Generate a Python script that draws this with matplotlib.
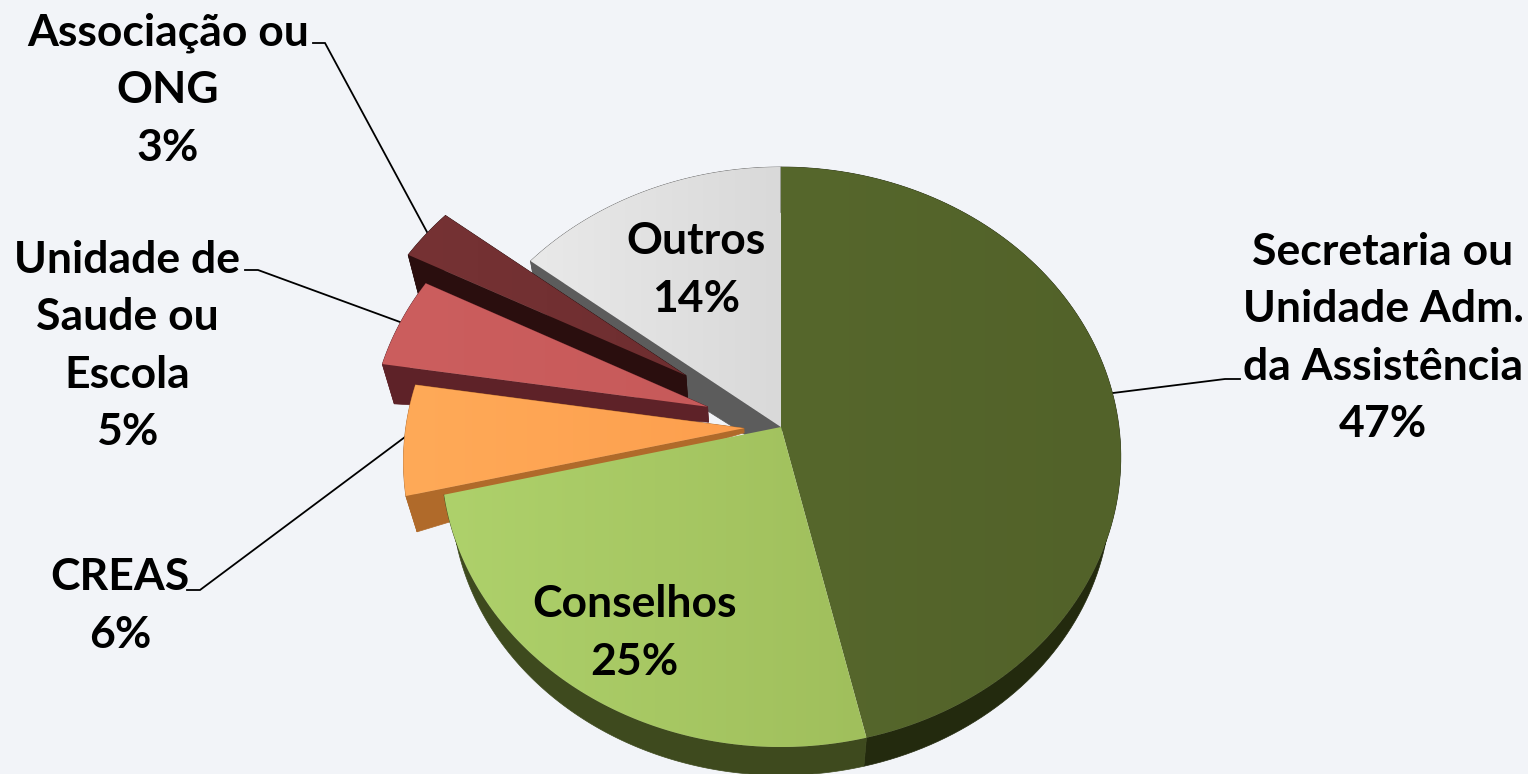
import numpy as np
import matplotlib
matplotlib.use("Agg")
import matplotlib.pyplot as plt
from matplotlib.colors import LinearSegmentedColormap
from matplotlib.patches import Polygon

# chart data, clockwise from 12 o'clock
categories = ["Secretaria ou\nUnidade Adm.\nda Assistência", "Conselhos", "CREAS",
              "Unidade de\nSaude ou\nEscola", "Associação ou\nONG", "Outros"]
shown_pct = [47, 25, 6, 5, 3, 14]
shares = [46.35, 24.95, 6.15, 5.1, 3.0, 14.45]

explode = [0.0, 0.0, 0.11, 0.23, 0.34, 0.0]
wall_base = [0.1, 0.1, 0.12, 0.4, 0.6, 0.8]
top_left = ["#56672c", "#aed16b", "#ffaa58", "#cc5e5e", "#763234", "#e9e9e9"]
top_right = ["#526229", "#a0bf5c", "#fd9f4e", "#c75a5a", "#6e2e30", "#d9d9d9"]
wall_colors = ["#232a0e", "#3e4a1e", "#b06a2a", "#5e2228", "#2a0e0e", "#5c5c5c"]

label_pos = [(1383, 338), (634, 633), (120, 606), (127, 346), (168, 90), (696, 270)]
leaders = [
    [(1240, 379), (1225, 379), (1113, 393)],
    None,
    [(187, 590), (200, 590), (405, 437)],
    [(245, 270), (258, 270), (400, 322)],
    [(313, 43), (325, 43), (427, 232)],
    None,
]

BG = "#f2f4f8"
CX, CY = 781, 427
A, B, K = 286.9, 338.0, 0.1034


def project(u, v):
    # flat disc to screen, far side a bit smaller
    w = 1 + K * v
    return CX + B * u / w, CY - A * v / w


def wall_shift(x, y, base, r):
    # the underside sits on a smaller, lower ellipse and closes in on the apex
    dx = (781 + (x - 781) * 0.97) - x
    dy = (494 + (y - 457) * 0.97) - y
    f = base + (1 - base) * r
    return dx * f, dy * f


def wedge_outline(a0, a1, e):
    mid = np.radians((a0 + a1) / 2)
    ou, ov = e * np.sin(mid), e * np.cos(mid)
    th = np.radians(np.linspace(a0, a1, 120))
    rim = np.array(project(ou + np.sin(th), ov + np.cos(th))).T
    apex = np.array(project(ou, ov))
    return apex, rim


def fill_gradient(ax, pts, c0, c1, z):
    cmap = LinearSegmentedColormap.from_list("g", [c0, c1])
    x0, x1 = pts[:, 0].min(), pts[:, 0].max()
    y0, y1 = pts[:, 1].min(), pts[:, 1].max()
    im = ax.imshow(np.linspace(0, 1, 256)[None, :], cmap=cmap, extent=(x0, x1, y1, y0),
                   aspect="auto", zorder=z, interpolation="bilinear")
    clip = Polygon(pts, closed=True, transform=ax.transData)
    im.set_clip_path(clip)


plt.rcParams["font.family"] = ["Lato", "DejaVu Sans"]
fig = plt.figure(figsize=(15.28, 7.74), dpi=100, facecolor=BG)
ax = fig.add_axes([0, 0, 1, 1])
ax.set_facecolor(BG)

edges = np.cumsum([0] + shares) / sum(shares) * 360
order = [5, 4, 3, 2, 0, 1]
z = 2
for i in order:
    apex, rim = wedge_outline(edges[i], edges[i + 1], explode[i])
    sx, sy = wall_shift(rim[:, 0], rim[:, 1], wall_base[i], 1.0)
    low_rim = rim + np.c_[sx, sy]
    ax_, ay_ = wall_shift(apex[0], apex[1], wall_base[i], 0.0)
    low_apex = apex + np.array([ax_, ay_])
    # radial walls only show on the pulled-out slices and Outros
    if i >= 2:
        for p, q in [(rim[0], low_rim[0]), (rim[-1], low_rim[-1])]:
            ax.add_patch(Polygon([apex, p, q, low_apex], closed=True, fc=wall_colors[i],
                                 ec=wall_colors[i], lw=0.5, zorder=z))
    ax.add_patch(Polygon(np.vstack([rim, low_rim[::-1]]), closed=True, fc=wall_colors[i],
                         ec=wall_colors[i], lw=0.5, zorder=z))
    z += 1
    fill_gradient(ax, np.vstack([apex, rim]), top_left[i], top_right[i], z)
    z += 1

for name, pct, pos in zip(categories, shown_pct, label_pos):
    ax.text(pos[0], pos[1], f"{name}\n{pct}%", ha="center", va="center", fontsize=32,
            fontweight="bold", color="black", linespacing=1.53, zorder=40)

for line in leaders:
    if line is None:
        continue
    xs, ys = zip(*line)
    ax.plot(xs, ys, color="black", lw=1.3, zorder=1, solid_joinstyle="miter")

ax.set_xlim(0, 1528)
ax.set_ylim(774, 0)
ax.axis("off")
fig.savefig("out.png", dpi=100, facecolor=BG)
